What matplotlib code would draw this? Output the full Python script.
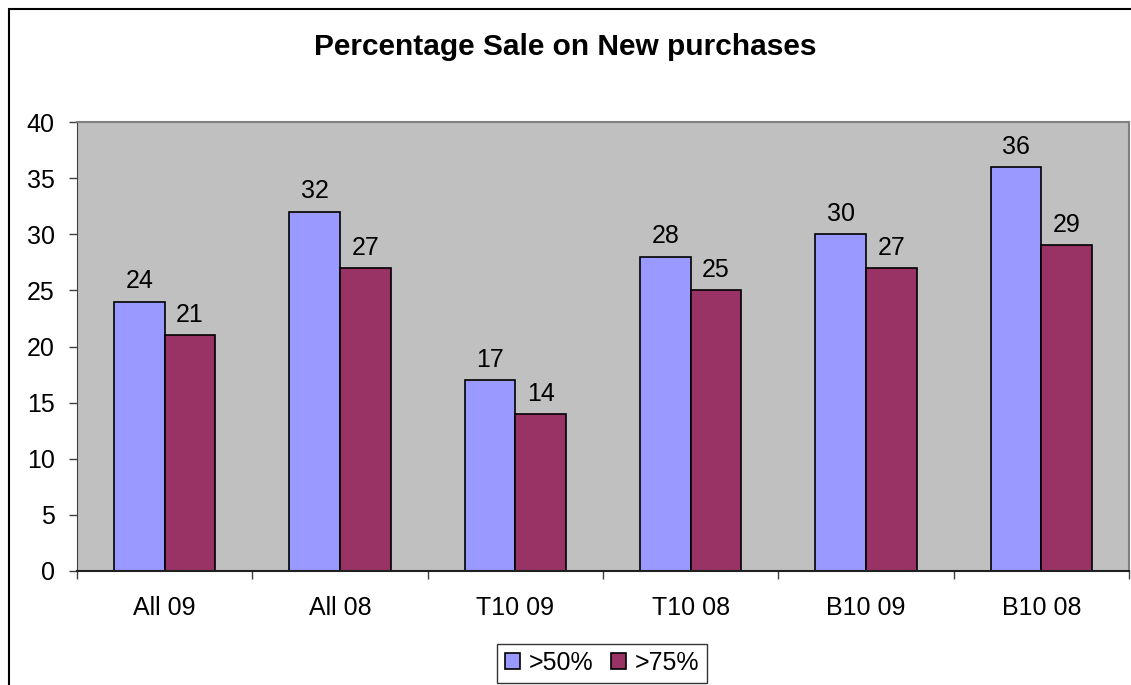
import matplotlib
matplotlib.use("Agg")
import matplotlib.pyplot as plt
import numpy as np
from matplotlib.patches import Rectangle

plt.rcParams['font.family'] = ['Liberation Sans', 'DejaVu Sans']

categories = ["All 09", "All 08", "T10 09", "T10 08", "B10 09", "B10 08"]
over_50 = [24, 32, 17, 28, 30, 36]
over_75 = [21, 27, 14, 25, 27, 29]
series_names = [">50%", ">75%"]
yticks = [0, 5, 10, 15, 20, 25, 30, 35, 40]

fig = plt.figure(figsize=(11.31, 6.85), dpi=100)
ax = fig.add_axes([77 / 1131, 1 - 571 / 685, (1129 - 77) / 1131, (571 - 122) / 685])
ax.set_facecolor("#C0C0C0")

x = np.arange(len(categories))
w = 0.289
b1 = ax.bar(x - w / 2, over_50, w, color="#9999FF", edgecolor="black", linewidth=1.2, label=series_names[0])
b2 = ax.bar(x + w / 2, over_75, w, color="#993366", edgecolor="black", linewidth=1.2, label=series_names[1])

for bars, vals in ((b1, over_50), (b2, over_75)):
    for r, v in zip(bars, vals):
        ax.annotate(str(v), (r.get_x() + r.get_width() / 2, v), xytext=(0, 6),
                    textcoords="offset points", ha="center", va="bottom", fontsize=18)

ax.set_xlim(-0.5, len(categories) - 0.5)
ax.set_ylim(0, 40)
ax.set_yticks(yticks)
ax.set_yticklabels([str(t) for t in yticks], fontsize=18)
ax.tick_params(axis="y", direction="out", length=6, width=1, color="#404040", pad=10)

# category labels centred, ticks at category boundaries
ax.set_xticks(x)
ax.set_xticklabels(categories, fontsize=18)
ax.tick_params(axis="x", which="major", length=0, pad=18)
ax.set_xticks(np.arange(-0.5, len(categories)), minor=True)
ax.tick_params(axis="x", which="minor", direction="out", length=6, width=1, color="#404040")

for side in ("top", "right"):
    ax.spines[side].set_color("#808080")
    ax.spines[side].set_linewidth(1.5)
ax.spines["left"].set_color("#404040")
ax.spines["bottom"].set_color("#202020")
ax.spines["bottom"].set_linewidth(1.5)

fig.text(0.5, 1 - 47 / 685, "Percentage Sale on New purchases", ha="center", va="center",
         fontsize=21.5, fontweight="bold")

leg = fig.legend(handles=[b1, b2], labels=series_names, loc="center",
                 bbox_to_anchor=(602 / 1131, 1 - 663 / 685), ncol=2, fontsize=18,
                 frameon=True, fancybox=False, edgecolor="black", handlelength=0.6,
                 handleheight=0.6, handletextpad=0.35, columnspacing=0.7, borderpad=0.3,
                 borderaxespad=0)
leg.get_frame().set_linewidth(1.0)

# outer chart border
fig.patches.append(Rectangle((9 / 1131, -0.05), 1.2, 1 - 9 / 685 + 0.05, transform=fig.transFigure,
                             fill=False, edgecolor="black", linewidth=1.5))

fig.savefig("out.png", dpi=100)
